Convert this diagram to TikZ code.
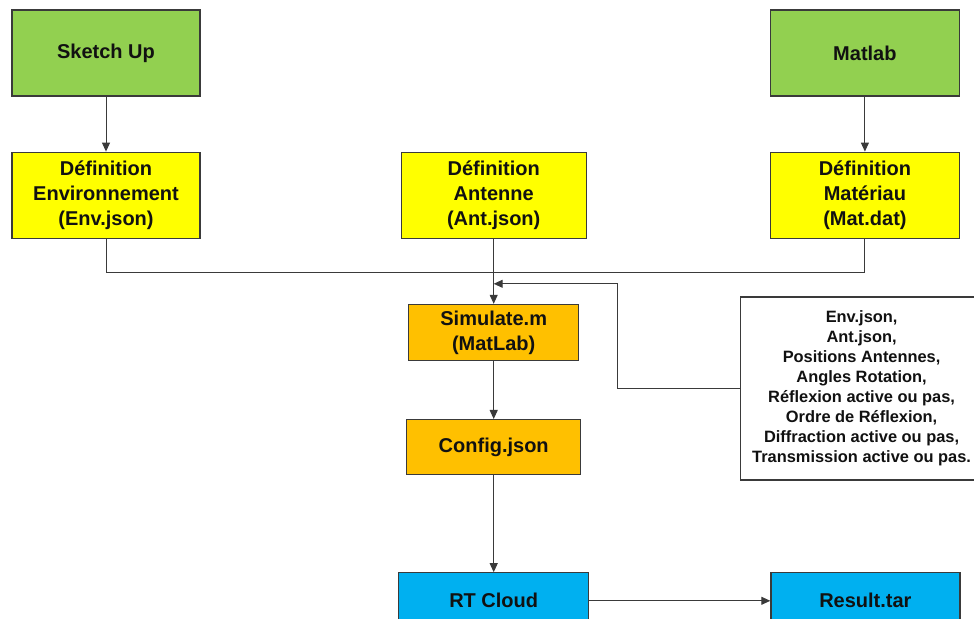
\documentclass[tikz,border=0pt]{standalone}
\usepackage{fontspec}
\setmainfont{Liberation Sans}
\usetikzlibrary{arrows.meta,positioning,calc}
\definecolor{ink}{HTML}{111111}
\definecolor{edge}{HTML}{3A3A3A}
\definecolor{tool}{HTML}{92D050}
\definecolor{spec}{HTML}{FFFF00}
\definecolor{script}{HTML}{FFC000}
\definecolor{cloud}{HTML}{00B0F0}
\tikzset{
  stage/.style={draw=edge,fill=#1,line width=0.6pt,inner sep=2pt,align=center,font=\fontsize{10}{12.5}\selectfont\bfseries,text=ink},
  note/.style={draw=edge,fill=white,line width=0.6pt,inner sep=2pt,align=center,font=\fontsize{8.2}{10}\selectfont\bfseries,text=ink,minimum width=121pt,minimum height=91.5pt},
  flow/.style={-{Triangle[length=4.5pt,width=4pt]},line width=0.5pt,draw=edge},
  wire/.style={line width=0.5pt,draw=edge}
}
\begin{document}
\begin{tikzpicture}[x=0.5pt,y=-0.5pt]
    \useasboundingbox (0,0) rectangle (974,619);
    \node[stage=tool,minimum width=94pt,minimum height=43pt] (sketch) at (106,53) {Sketch Up};
    \node[stage=spec,minimum width=94pt,minimum height=43pt,below=27.5pt of sketch] (env) {Définition\\Environnement\\(Env.json)};
    \node[stage=spec,minimum width=92.5pt,minimum height=43pt,right=100pt of env] (ant) {Définition\\Antenne\\(Ant.json)};
    \node[stage=spec,minimum width=94.5pt,minimum height=43pt,right=91.5pt of ant] (mat) {Définition\\Matériau\\(Mat.dat)};
    \node[stage=tool,minimum width=94.5pt,minimum height=43pt,above=27.5pt of mat] (matlab) {Matlab};
    \node[stage=script,minimum width=85pt,minimum height=28pt,below=32.5pt of ant] (sim) {Simulate.m\\(MatLab)};
    \node[stage=script,minimum width=87pt,minimum height=27.5pt,below=29pt of sim] (cfg) {Config.json};
    \node[stage=cloud,minimum width=95pt,minimum height=28pt,below=48.5pt of cfg] (rt) {RT Cloud};
    \node[stage=cloud,minimum width=94.5pt,minimum height=28pt,right=90.5pt of rt] (res) {Result.tar};
    \node[note,anchor=west] (params) at (740,388.5) {Env.json,\\Ant.json,\\Positions Antennes,\\Angles Rotation,\\Réflexion active ou pas,\\Ordre de Réflexion,\\Diffraction active ou pas,\\Transmission active ou pas.};

    \coordinate (bus) at ($(ant.south)+(0,34)$);
    \coordinate (feed) at ($(sim.north)+(0,-20)$);

    \draw[flow] (sketch) -- (env);
    \draw[flow] (matlab) -- (mat);
    \draw[wire] (env.south) |- (bus) -| (mat.south);
    \draw[flow] (ant) -- (sim);
    \draw[flow] (params.west) -- ++(-123,0) |- (feed);
    \draw[flow] (sim) -- (cfg);
    \draw[flow] (cfg) -- (rt);
    \draw[flow] (rt) -- (res);
  \end{tikzpicture}
\end{document}
